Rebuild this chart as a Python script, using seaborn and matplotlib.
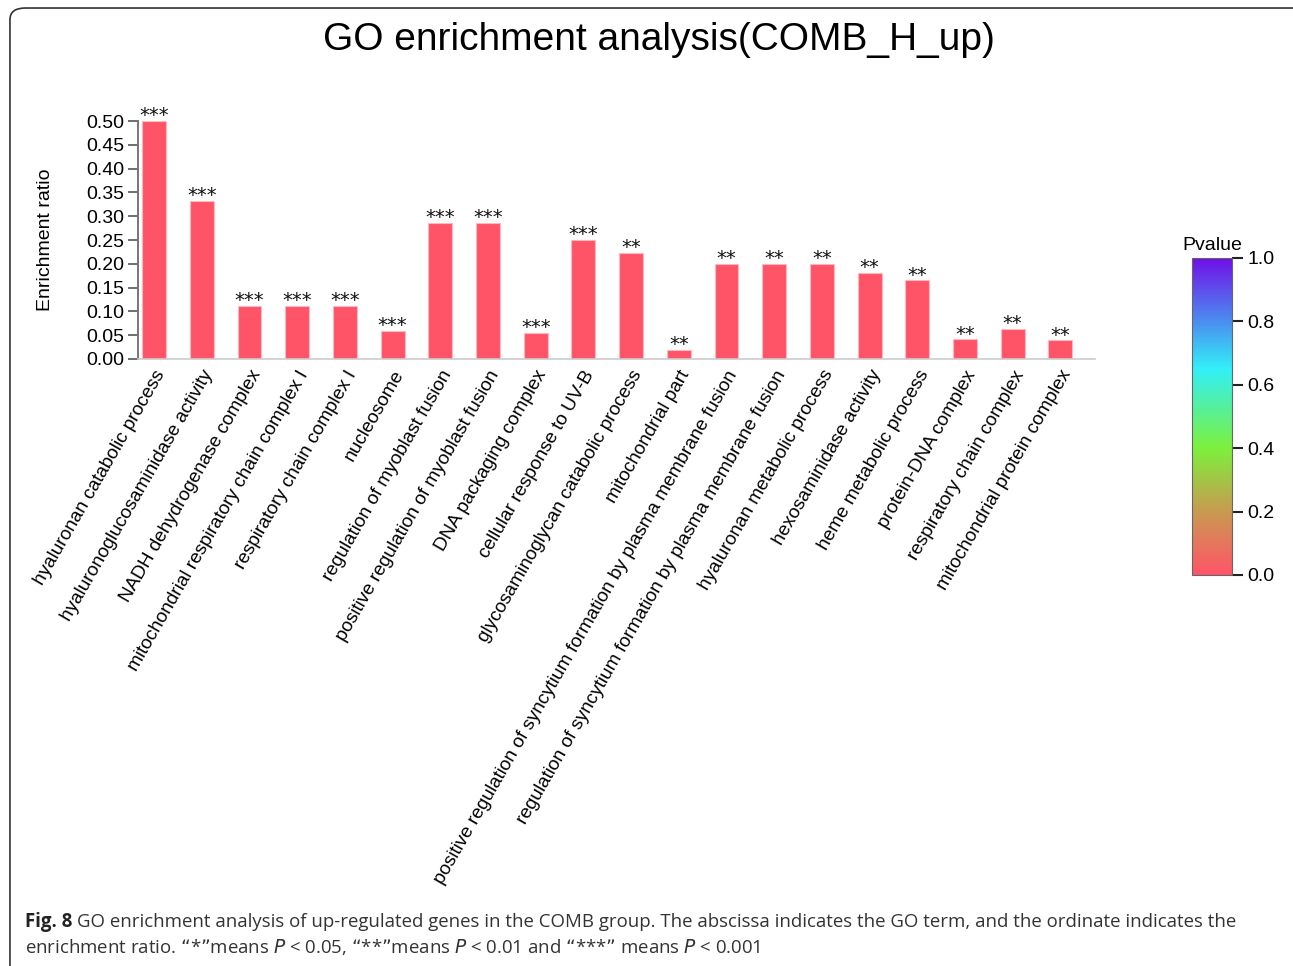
import matplotlib
matplotlib.use("Agg")
import matplotlib.pyplot as plt
import seaborn as sns
import numpy as np
import pandas as pd
from matplotlib.colors import LinearSegmentedColormap, Normalize
from matplotlib.patches import FancyBboxPatch
from matplotlib.cm import ScalarMappable

terms = [
    "hyaluronan catabolic process",
    "hyaluronoglucosaminidase activity",
    "NADH dehydrogenase complex",
    "mitochondrial respiratory chain complex I",
    "respiratory chain complex I",
    "nucleosome",
    "regulation of myoblast fusion",
    "positive regulation of myoblast fusion",
    "DNA packaging complex",
    "cellular response to UV-B",
    "glycosaminoglycan catabolic process",
    "mitochondrial part",
    "positive regulation of syncytium formation by plasma membrane fusion",
    "regulation of syncytium formation by plasma membrane fusion",
    "hyaluronan metabolic process",
    "hexosaminidase activity",
    "heme metabolic process",
    "protein-DNA complex",
    "respiratory chain complex",
    "mitochondrial protein complex",
]
ratio = [0.500, 0.333, 0.111, 0.111, 0.111, 0.059, 0.286, 0.286, 0.055, 0.250,
         0.222, 0.019, 0.200, 0.200, 0.200, 0.180, 0.165, 0.041, 0.064, 0.039]
stars = ["***", "***", "***", "***", "***", "***", "***", "***", "***", "***",
         "**", "**", "**", "**", "**", "**", "**", "**", "**", "**"]
pvalue = [0.0] * len(terms)
ytick_vals = [0.00, 0.05, 0.10, 0.15, 0.20, 0.25, 0.30, 0.35, 0.40, 0.45, 0.50]
cbar_ticks = [0.0, 0.2, 0.4, 0.6, 0.8, 1.0]

df = pd.DataFrame({"term": terms, "ratio": ratio, "stars": stars, "pvalue": pvalue})

sns.set_style("white")
plt.rcParams["font.family"] = ["Liberation Sans", "DejaVu Sans"]
plt.rcParams["text.color"] = "black"
plt.rcParams["axes.labelcolor"] = "black"
plt.rcParams["xtick.color"] = "black"
plt.rcParams["ytick.color"] = "black"

pcmap = LinearSegmentedColormap.from_list(
    "pval",
    [(0.0, "#FF5468"), (0.2, "#C89A50"), (0.4, "#7CF03C"),
     (0.65, "#32F0F8"), (0.8, "#4A8EF0"), (1.0, "#7010E8")],
)
norm = Normalize(0, 1)

fig = plt.figure(figsize=(12.93, 9.66), dpi=100)
ax = fig.add_axes([0.1067, 0.6284, 0.7403, 0.2463])

bar_colors = [pcmap(norm(p)) for p in df["pvalue"]]
sns.barplot(data=df, x="term", y="ratio", hue="term", palette=bar_colors,
            saturation=1, legend=False, width=0.5, ax=ax,
            edgecolor="#FFB8C2", linewidth=0.8)

for container, s in zip(ax.containers, df["stars"]):
    ax.bar_label(container, labels=[s], padding=-3, fontsize=14,
                 color="#111111", family=["DejaVu Sans"])

ax.set_xlim(-0.34, 19.73)
ax.set_ylim(0, 0.5)
ax.set_yticks(ytick_vals)
ax.set_yticklabels([f"{v:.2f}" for v in ytick_vals], fontsize=14)
ax.set_xticks(range(len(terms)))
ax.set_xticklabels(terms, rotation=60, ha="right", rotation_mode="anchor",
                   fontsize=13.7, color="black")
ax.tick_params(axis="x", length=0, pad=6)
ax.tick_params(axis="y", length=7, width=1.2, color="#555555", direction="out",
               pad=3, left=True)
ax.set_xlabel("")
ax.set_ylabel("Enrichment ratio", fontsize=14, labelpad=23)
for side in ("top", "right"):
    ax.spines[side].set_visible(False)
ax.spines["left"].set_color("#777777")
ax.spines["left"].set_linewidth(1.4)
ax.spines["bottom"].set_color("#cccccc")
ax.spines["bottom"].set_linewidth(1.2)
ax.spines["left"].set_bounds(0, 0.5)

# colour bar for P value
cax = fig.add_axes([0.9219, 0.4048, 0.0309, 0.3282])
sm = ScalarMappable(norm=norm, cmap=pcmap)
cb = fig.colorbar(sm, cax=cax, ticks=cbar_ticks)
cb.ax.set_yticklabels([f"{t:.1f}" for t in cbar_ticks], fontsize=14)
cb.ax.tick_params(length=8, width=1.5, color="#222222", pad=3)
cb.outline.set_edgecolor("#666666")
cb.outline.set_linewidth(0.8)
cax.set_title("Pvalue", fontsize=14, pad=6)

fig.text(0.5095, 0.9586, "GO enrichment analysis(COMB_H_up)", ha="center",
         va="center", fontsize=28)

# caption below the figure panel
cap_font = ["Open Sans", "DejaVu Sans"]
cap_size = 13.4
x0 = 25 / 1293
fig.canvas.draw()
bold = fig.text(x0, 0.0455, "Fig. 8", fontsize=cap_size, family=cap_font,
                fontweight="bold", va="center", ha="left", color="#222222")
bb = bold.get_window_extent(renderer=fig.canvas.get_renderer())
x1 = (bb.x1 + 5) / fig.bbox.width
fig.text(x1, 0.0455,
         "GO enrichment analysis of up-regulated genes in the COMB group. "
         "The abscissa indicates the GO term, and the ordinate indicates the",
         fontsize=cap_size, family=cap_font, va="center", ha="left",
         color="#333333")
fig.text(x0, 0.0195,
         "enrichment ratio. \u201c*\u201dmeans $\\it{P}$ < 0.05, \u201c**\u201dmeans "
         "$\\it{P}$ < 0.01 and \u201c***\u201d means $\\it{P}$ < 0.001",
         fontsize=cap_size, family=cap_font, va="center", ha="left",
         color="#333333")

# rounded frame around the panel
frame = FancyBboxPatch((0.0077, -0.05), 1.05, 1.0417,
                       boxstyle="round,pad=0,rounding_size=0.012",
                       transform=fig.transFigure, fill=False,
                       edgecolor="#333333", linewidth=1.2, clip_on=False)
fig.patches.append(frame)

fig.savefig("out.png", dpi=100)
